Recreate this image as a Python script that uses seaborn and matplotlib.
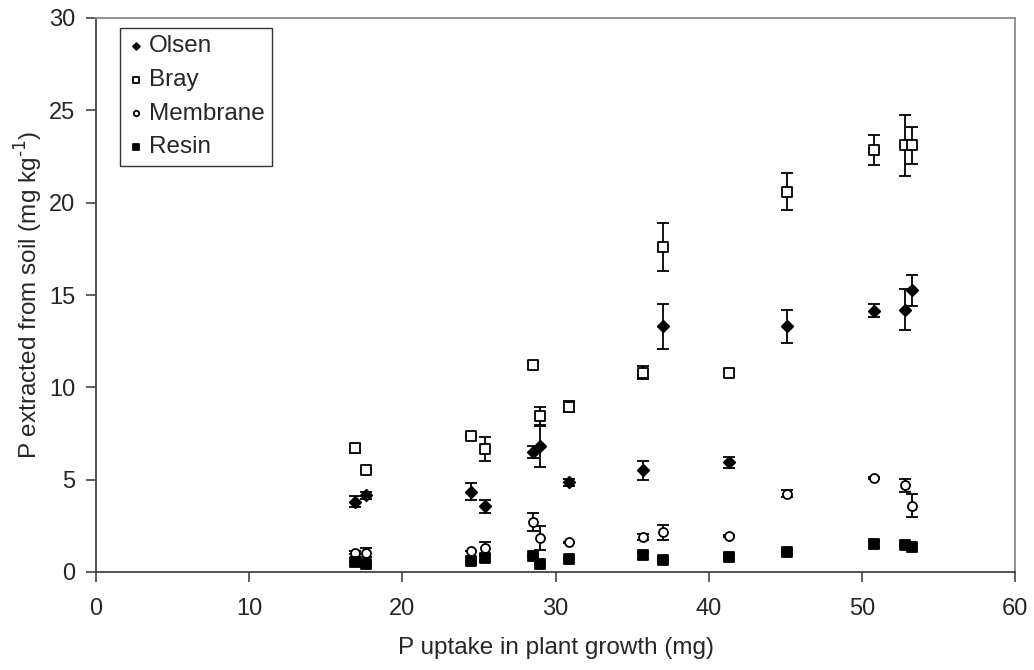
import numpy as np
import pandas as pd
import matplotlib
matplotlib.use("Agg")
import matplotlib.pyplot as plt
import seaborn as sns

uptake = [16.9, 17.6, 24.5, 25.4, 28.5, 29.0, 30.9, 35.7, 37.0, 41.3, 45.1, 50.8, 52.8, 53.3]

olsen = [3.8, 4.15, 4.35, 3.55, 6.5, 6.8, 4.85, 5.5, 13.3, 5.95, 13.3, 14.15, 14.2, 15.25]
olsen_err = [0.3, 0.2, 0.45, 0.35, 0.3, 1.1, 0.2, 0.5, 1.2, 0.3, 0.9, 0.35, 1.1, 0.85]

bray = [6.7, 5.55, 7.35, 6.65, 11.2, 8.45, 8.95, 10.8, 17.6, 10.8, 20.6, 22.85, 23.1, 23.1]
bray_err = [0.25, 0.0, 0.0, 0.65, 0.2, 0.5, 0.3, 0.35, 1.3, 0.2, 1.0, 0.8, 1.65, 1.0]

membrane = [1.05, 1.05, 1.15, 1.3, 2.7, 1.85, 1.6, 1.9, 2.15, 1.95, 4.25, 5.1, 4.7, 3.6]
membrane_err = [0.1, 0.25, 0.0, 0.3, 0.5, 0.65, 0.05, 0.15, 0.4, 0.05, 0.2, 0.05, 0.35, 0.6]

resin = [0.55, 0.45, 0.6, 0.75, 0.85, 0.45, 0.7, 0.9, 0.65, 0.8, 1.1, 1.5, 1.45, 1.35]
resin_err = [0.0, 0.0, 0.0, 0.15, 0.0, 0.0, 0.0, 0.2, 0.0, 0.1, 0.1, 0.2, 0.0, 0.0]

methods = ["Olsen", "Bray", "Membrane", "Resin"]
series = {"Olsen": (olsen, olsen_err), "Bray": (bray, bray_err),
          "Membrane": (membrane, membrane_err), "Resin": (resin, resin_err)}

rows = []
for m in methods:
    vals, errs = series[m]
    for x, v, e in zip(uptake, vals, errs):
        rows.append({"uptake": x, "value": v, "err": e, "method": m})
df = pd.DataFrame(rows)

sns.set_style("white")
plt.rcParams['font.family'] = ['Liberation Sans', 'DejaVu Sans']

fig = plt.figure(figsize=(10.34, 6.7), dpi=100)
# axes box: x 96..1015 px, y 18..572 px
ax = fig.add_axes([96 / 1034, 1 - 572 / 670, (1015 - 96) / 1034, (572 - 18) / 670])

markers = {"Olsen": "D", "Bray": "s", "Membrane": "o", "Resin": "s"}
faces = {"Olsen": "black", "Bray": "white", "Membrane": "white", "Resin": "black"}
sizes = {"Olsen": 34, "Bray": 48, "Membrane": 42, "Resin": 48}

for m in methods:
    sub = df[df.method == m]
    ax.errorbar(sub.uptake, sub.value, yerr=sub.err, fmt="none", ecolor="black",
                elinewidth=1.3, capsize=4, capthick=1.3, zorder=2)
    sns.scatterplot(data=sub, x="uptake", y="value", marker=markers[m],
                    color=faces[m], edgecolor="black", linewidth=1.3,
                    s=sizes[m], ax=ax, zorder=3, label=m)

ax.set_xlim(0, 60)
ax.set_ylim(0, 30)
ax.set_xticks(range(0, 61, 10))
ax.set_yticks(range(0, 31, 5))
ax.tick_params(axis="both", labelsize=17, direction="out", length=7, width=1.2,
               color="#444444", bottom=True, left=True)
ax.tick_params(axis="x", pad=12)
ax.tick_params(axis="y", pad=8)
ax.spines["left"].set_color("#444444")
ax.spines["bottom"].set_color("#444444")
ax.spines["top"].set_color("#8a8a8a")
ax.spines["right"].set_color("#8a8a8a")
for s in ax.spines.values():
    s.set_linewidth(1.3)
ax.set_xlabel("P uptake in plant growth (mg)", fontsize=17.5, labelpad=12)
ax.set_ylabel("P extracted from soil (mg kg$^{\\text{-1}}$)", fontsize=17.5, labelpad=3)

leg = ax.legend(loc="upper left", bbox_to_anchor=(24 / 919, 1 - 10 / 554), fontsize=17.5,
                frameon=True, fancybox=False, edgecolor="black", borderaxespad=0,
                handletextpad=0.2, borderpad=0.3, labelspacing=0.48,
                handlelength=0.7, markerscale=0.6)
leg.get_frame().set_linewidth(1.0)

fig.savefig("out.png", dpi=100)
